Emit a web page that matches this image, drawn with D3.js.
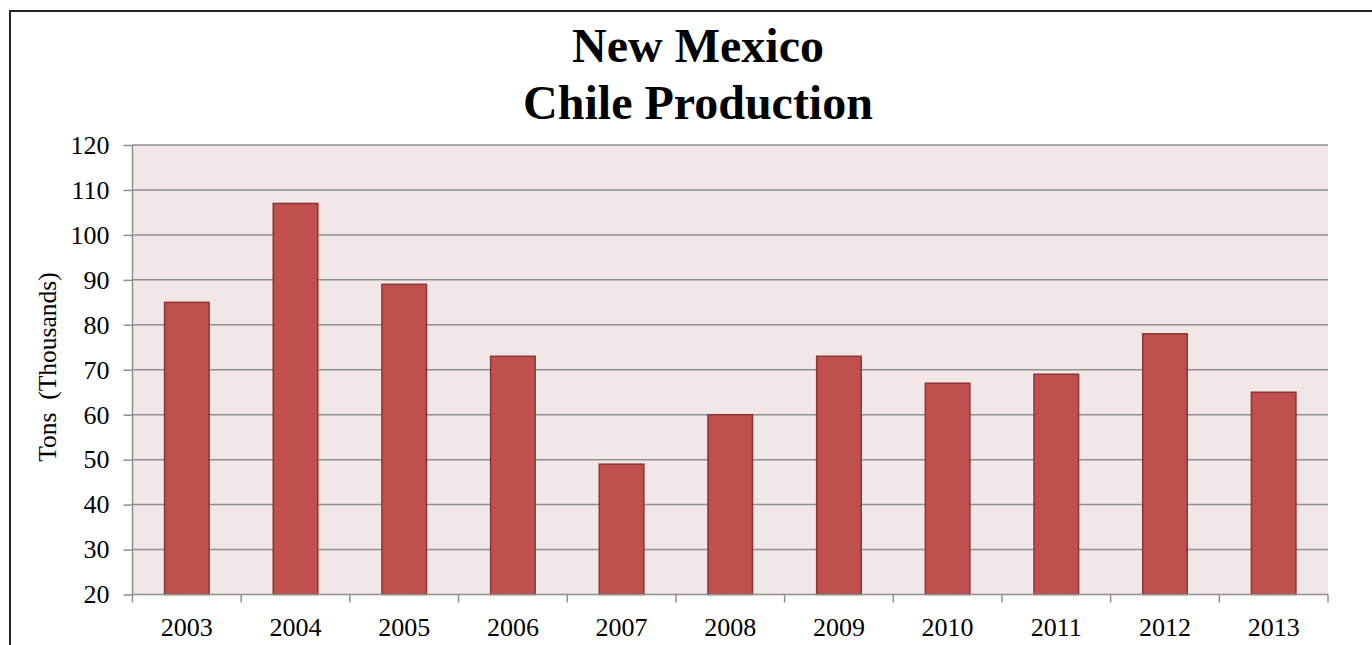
<!DOCTYPE html>
<html>
<head>
<meta charset="utf-8">
<script src="https://cdn.jsdelivr.net/npm/d3@7"></script>
<style>
  html, body { margin: 0; padding: 0; background: #fff; }
  svg { display: block; }
  text { font-family: "Liberation Serif", "Times New Roman", serif; fill: #000; }
</style>
</head>
<body>
<svg id="chart" width="1372" height="645"></svg>
<script>
const years = ["2003","2004","2005","2006","2007","2008","2009","2010","2011","2012","2013"];
const production = [85, 107, 89, 73, 49, 60, 73, 67, 69, 78, 65];
const yTicks = [20, 30, 40, 50, 60, 70, 80, 90, 100, 110, 120];
const titleLines = ["New Mexico", "Chile Production"];
const yAxisTitle = "Tons  (Thousands)";

const svg = d3.select("#chart");
const W = 1372, H = 645;
const m = { left: 132.5, right: 1328, top: 145, bottom: 594.5 };

// outer frame
svg.append("rect").attr("x", 10).attr("y", 11).attr("width", W + 20).attr("height", H + 20)
  .attr("fill", "#fff").attr("stroke", "#262626").attr("stroke-width", 2);

const x = d3.scaleBand().domain(years).range([m.left, m.right]).paddingInner(0.59).paddingOuter(0.295);
const y = d3.scaleLinear().domain([20, 120]).range([m.bottom, m.top]);

// plot background
svg.append("rect").attr("x", m.left).attr("y", m.top)
  .attr("width", m.right - m.left).attr("height", m.bottom - m.top)
  .attr("fill", "#F2E7E7");

// gridlines
svg.append("g").selectAll("line").data(yTicks.filter(d => d > 20)).join("line")
  .attr("x1", m.left).attr("x2", m.right)
  .attr("y1", d => y(d)).attr("y2", d => y(d))
  .attr("stroke", "#8F8F8F").attr("stroke-width", 1.5);

// bars
svg.append("g").selectAll("rect").data(years).join("rect")
  .attr("x", d => x(d))
  .attr("y", (d, i) => y(production[i]))
  .attr("width", x.bandwidth())
  .attr("height", (d, i) => y(20) - y(production[i]))
  .attr("fill", "#C0504D")
  .attr("stroke", "#8C3533").attr("stroke-width", 1.5);

// y axis
const yAxis = d3.axisLeft(y).tickValues(yTicks).tickSize(9).tickPadding(14).tickFormat(d3.format("d"));
const gy = svg.append("g").attr("transform", `translate(${m.left},0)`).call(yAxis);
gy.select(".domain").attr("stroke", "#8F8F8F").attr("stroke-width", 1.5).attr("d", `M0,${m.top}V${m.bottom}`);
gy.selectAll(".tick line").attr("stroke", "#8F8F8F").attr("stroke-width", 1.5);
gy.selectAll(".tick text").attr("font-size", 26).attr("font-family", "Liberation Serif").attr("fill", "#000");

// x axis
const xAxis = d3.axisBottom(x).tickSize(0).tickPadding(23);
const gx = svg.append("g").attr("transform", `translate(0,${m.bottom})`).call(xAxis);
gx.select(".domain").attr("stroke", "#8F8F8F").attr("stroke-width", 1.5).attr("d", `M${m.left},0H${m.right}`);
gx.selectAll(".tick text").attr("font-size", 26).attr("font-family", "Liberation Serif").attr("fill", "#000");
// x tick marks at band boundaries
const boundaries = d3.range(years.length + 1).map(i => m.left + i * (m.right - m.left) / years.length);
gx.append("g").selectAll("line").data(boundaries).join("line")
  .attr("x1", d => d).attr("x2", d => d).attr("y1", 0).attr("y2", 8)
  .attr("stroke", "#8F8F8F").attr("stroke-width", 1.5);

// y axis title
svg.append("text")
  .attr("transform", `translate(56,367) rotate(-90)`)
  .attr("text-anchor", "middle").attr("font-size", 25.5).style("white-space", "pre")
  .text(yAxisTitle);

// title
svg.append("g").selectAll("text").data(titleLines).join("text")
  .attr("x", 698)
  .attr("y", (d, i) => 62 + i * 57)
  .attr("text-anchor", "middle").attr("font-size", 48).attr("font-weight", "bold")
  .text(d => d);
</script>
</body>
</html>
